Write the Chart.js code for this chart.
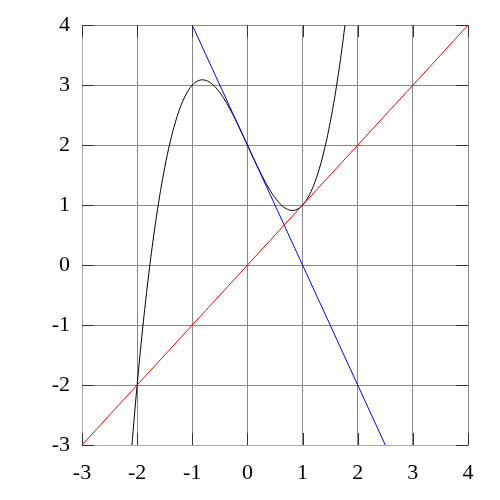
<!DOCTYPE html>
<html>
<head>
<meta charset="UTF-8">
<title>Newton</title>
<script src="https://cdn.jsdelivr.net/npm/chart.js"></script>
<style>
  html, body { margin: 0; padding: 0; background: #fff; }
  #wrap { width: 500px; height: 500px; }
</style>
</head>
<body>
<div id="wrap"><canvas id="myChart" width="500" height="500"></canvas></div>
<script>
// values
var curveX = [-2.1, -2.0, -1.9, -1.8, -1.7, -1.6, -1.5, -1.4, -1.3, -1.2, -1.1, -1.0,
              -0.9, -0.8, -0.7, -0.6, -0.5, -0.4, -0.3, -0.2, -0.1, 0.0,
              0.1, 0.2, 0.3, 0.4, 0.5, 0.6, 0.7, 0.8, 0.9, 1.0,
              1.1, 1.2, 1.3, 1.4, 1.5, 1.6, 1.7, 1.8];
var curveY = [-3.061, -2.0, -1.059, -0.232, 0.487, 1.104, 1.625, 2.056, 2.403, 2.672, 2.869, 3.0,
              3.071, 3.088, 3.057, 2.984, 2.875, 2.736, 2.573, 2.392, 2.199, 2.0,
              1.801, 1.608, 1.427, 1.264, 1.125, 1.016, 0.943, 0.912, 0.929, 1.0,
              1.131, 1.328, 1.597, 1.944, 2.375, 2.896, 3.513, 4.232];
var redX = [-3, 4];
var redY = [-3, 4];
var blueX = [-1, 2.5];
var blueY = [4, -3];
var xTicks = [-3, -2, -1, 0, 1, 2, 3, 4];
var yTicks = [-3, -2, -1, 0, 1, 2, 3, 4];

function pts(xs, ys) {
    var out = [];
    for (var i = 0; i < xs.length; i++) out.push({x: xs[i], y: ys[i]});
    return out;
}

// short dark tick marks drawn just inside the frame
var innerTicks = {
    id: 'innerTicks',
    afterDraw: function(chart) {
        var c = chart.ctx, a = chart.chartArea;
        var sx = chart.scales.x, sy = chart.scales.y;
        c.save();
        c.strokeStyle = '#333';
        c.lineWidth = 1;
        c.beginPath();
        xTicks.forEach(function(v) {
            var px = Math.round(sx.getPixelForValue(v)) + 0.5;
            c.moveTo(px, a.bottom); c.lineTo(px, a.bottom - 12);
            c.moveTo(px, a.top); c.lineTo(px, a.top + 12);
        });
        yTicks.forEach(function(v) {
            var py = Math.round(sy.getPixelForValue(v)) + 0.5;
            c.moveTo(a.left, py); c.lineTo(a.left + 12, py);
            c.moveTo(a.right, py); c.lineTo(a.right - 12, py);
        });
        c.stroke();
        c.restore();
    }
};

var ctx = document.querySelector('#myChart');
var myChart = new Chart(ctx, {
    type: 'scatter',
    data: {
        datasets: [
            { data: pts(redX, redY), showLine: true, borderColor: '#ff0000', borderWidth: 1, pointRadius: 0 },
            { data: pts(blueX, blueY), showLine: true, borderColor: '#0000ff', borderWidth: 1, pointRadius: 0 },
            { data: pts(curveX, curveY), showLine: true, borderColor: '#000000', borderWidth: 1, pointRadius: 0,
              tension: 0.4 }
        ]
    },
    options: {
        responsive: false,
        animation: false,
        events: [],
        layout: { padding: { left: 0, right: 32, top: 25, bottom: 0 } },
        plugins: { legend: { display: false }, tooltip: { enabled: false } },
        scales: {
            x: {
                type: 'linear', min: -3, max: 4,
                afterBuildTicks: function(s) { s.ticks = xTicks.map(function(v) { return {value: v}; }); },
                afterFit: function(s) { s.height = 55; },
                grid: { color: '#888', lineWidth: 1, drawTicks: false },
                border: { color: '#aaa', width: 1 },
                ticks: { color: '#000', padding: 15, font: { family: 'Liberation Serif', size: 22 } }
            },
            y: {
                type: 'linear', min: -3, max: 4,
                afterBuildTicks: function(s) { s.ticks = yTicks.map(function(v) { return {value: v}; }); },
                afterFit: function(s) { s.width = 82; },
                grid: { color: '#888', lineWidth: 1, drawTicks: false },
                border: { color: '#aaa', width: 1 },
                ticks: { color: '#000', padding: 12, font: { family: 'Liberation Serif', size: 22 } }
            }
        }
    },
    plugins: [innerTicks]
});
</script>
</body>
</html>
